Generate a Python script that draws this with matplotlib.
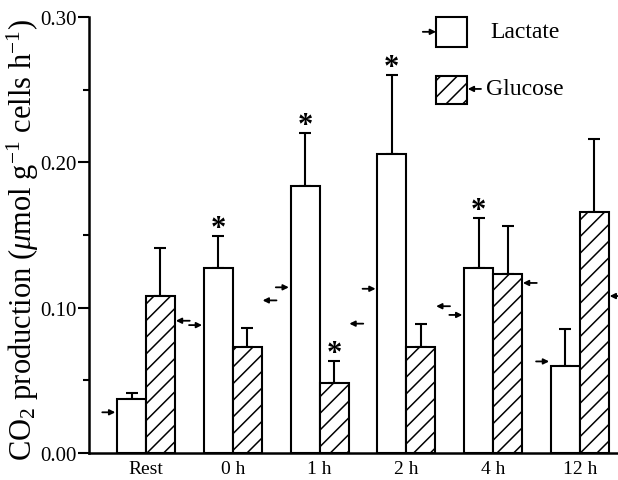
import numpy as np
import matplotlib
matplotlib.use("Agg")
import matplotlib.pyplot as plt
from matplotlib.patches import Rectangle

plt.rcParams['font.family'] = ['Liberation Serif', 'DejaVu Serif']
plt.rcParams['mathtext.fontset'] = 'custom'
plt.rcParams['mathtext.rm'] = 'Liberation Serif'
plt.rcParams['mathtext.it'] = 'Liberation Serif:italic'
plt.rcParams['hatch.linewidth'] = 1.1

# --- data ---
groups = ['Rest', '0 h', '1 h', '2 h', '4 h', '12 h']
lactate = [0.037, 0.127, 0.184, 0.206, 0.127, 0.060]
lactate_err = [0.004, 0.022, 0.036, 0.054, 0.035, 0.025]
glucose = [0.108, 0.073, 0.048, 0.073, 0.123, 0.166]
glucose_err = [0.033, 0.013, 0.015, 0.016, 0.033, 0.050]
lactate_sig = [False, True, True, True, True, False]
glucose_sig = [False, False, True, False, False, False]
# arrow markers beside each bar
lactate_marks = [0.028, 0.088, 0.114, 0.113, 0.095, 0.063]
glucose_marks = [0.091, 0.105, 0.089, 0.101, 0.117, 0.108]

x = np.arange(len(groups))
w = 0.334

fig = plt.figure(figsize=(6.18, 4.81), dpi=100)
ax = fig.add_axes([89 / 618, 27 / 481, 529 / 618, 436 / 481])

lx = x - w / 2
gx = x + w / 2
ax.bar(lx, lactate, w, color='white', edgecolor='black', linewidth=1.5, zorder=2)
ax.bar(gx, glucose, w, color='white', edgecolor='black', linewidth=1.5,
       hatch='//', zorder=2)

n = len(groups)
ax.errorbar(lx, lactate, yerr=[np.zeros(n), lactate_err], fmt='none',
            ecolor='black', elinewidth=1.5, capsize=4, capthick=1.5, zorder=1)
ax.errorbar(gx, glucose, yerr=[np.zeros(n), glucose_err], fmt='none',
            ecolor='black', elinewidth=1.5, capsize=4, capthick=1.5, zorder=1)

# significance stars
for xi, v, e, s in zip(lx, lactate, lactate_err, lactate_sig):
    if s:
        ax.annotate('*', (xi, v + e), xytext=(0, -5), textcoords='offset points',
                    ha='center', va='bottom', fontsize=22, fontweight='bold')
for xi, v, e, s in zip(gx, glucose, glucose_err, glucose_sig):
    if s:
        ax.annotate('*', (xi, v + e), xytext=(0, -5), textcoords='offset points',
                    ha='center', va='bottom', fontsize=22, fontweight='bold')

# arrow markers
aprops = dict(arrowstyle='-|>', lw=1.3, color='black', mutation_scale=8,
              shrinkA=0, shrinkB=0)
for xi, v in zip(lx, lactate_marks):
    ax.annotate('', xy=(xi - w / 2 - 0.02, v), xytext=(xi - w / 2 - 0.17, v),
                arrowprops=aprops, annotation_clip=False)
for xi, v in zip(gx, glucose_marks):
    ax.annotate('', xy=(xi + w / 2 + 0.01, v), xytext=(xi + w / 2 + 0.17, v),
                arrowprops=aprops, annotation_clip=False)

ax.set_xlim(-0.657, 5.44)
ax.set_ylim(0, 0.30)
ax.set_yticks([0.0, 0.1, 0.2, 0.3])
ax.set_yticks([0.05, 0.15, 0.25], minor=True)
ax.set_yticklabels(['0.00', '0.10', '0.20', '0.30'])
ax.set_xticks(x)
ax.set_xticklabels(groups)
ax.tick_params(axis='y', which='major', length=8, width=1.5, labelsize=15, pad=1)
ax.tick_params(axis='y', which='minor', length=4, width=1.5)
ax.tick_params(axis='x', length=0, labelsize=14, pad=5)
for side in ['top', 'right']:
    ax.spines[side].set_visible(False)
for side in ['left', 'bottom']:
    ax.spines[side].set_linewidth(1.8)

ax.set_ylabel('CO$_2$ production ($\\mu$mol g$^{-1}$ cells h$^{-1}$)',
              fontsize=22)
ax.yaxis.set_label_coords(-0.09, 0.49)

# legend drawn by hand
ax.add_patch(Rectangle((0.656, 0.931), 0.059, 0.069, transform=ax.transAxes,
                       facecolor='white', edgecolor='black', lw=1.5, clip_on=False))
ax.add_patch(Rectangle((0.656, 0.800), 0.059, 0.065, transform=ax.transAxes,
                       facecolor='white', edgecolor='black', lw=1.5, hatch='//',
                       clip_on=False))
ax.annotate('', xy=(0.656, 0.966), xytext=(0.631, 0.966), xycoords='axes fraction',
            arrowprops=aprops)
ax.annotate('', xy=(0.716, 0.835), xytext=(0.741, 0.835), xycoords='axes fraction',
            arrowprops=aprops)
ax.text(0.758, 0.966, 'Lactate', transform=ax.transAxes, fontsize=17,
        va='center', ha='left')
ax.text(0.750, 0.835, 'Glucose', transform=ax.transAxes, fontsize=17,
        va='center', ha='left')

fig.savefig('out.png', dpi=100)
